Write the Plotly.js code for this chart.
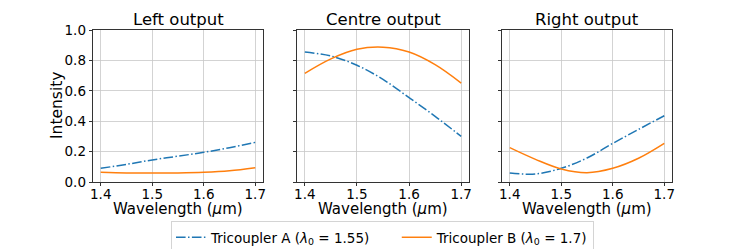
<!DOCTYPE html>
<html>
<head>
<meta charset="utf-8">
<script src="https://cdn.plot.ly/plotly-3.0.1.min.js"></script>
<style>html,body{margin:0;padding:0;background:#fff;}#chart{width:747px;height:249px;}</style>
</head>
<body>
<div id="chart"></div>
<script>
const wavelength = [1.40, 1.45, 1.50, 1.55, 1.60, 1.65, 1.70];

const leftA   = [0.090, 0.116, 0.145, 0.170, 0.195, 0.226, 0.261];
const leftB   = [0.064, 0.060, 0.059, 0.060, 0.064, 0.074, 0.094];
const centreA = [0.855, 0.829, 0.768, 0.675, 0.555, 0.432, 0.300];
const centreB = [0.715, 0.810, 0.873, 0.887, 0.855, 0.772, 0.651];
const rightA  = [0.059, 0.053, 0.090, 0.158, 0.254, 0.346, 0.436];
const rightB  = [0.226, 0.149, 0.086, 0.061, 0.090, 0.156, 0.254];

const panelTitles = ['Left output', 'Centre output', 'Right output'];
const seriesNames = ['Tricoupler A (<i>λ</i><sub>0</sub> = 1.55)', 'Tricoupler B (<i>λ</i><sub>0</sub> = 1.7)'];
const xTicks = [1.4, 1.5, 1.6, 1.7];
const yTicks = [0.0, 0.2, 0.4, 0.6, 0.8, 1.0];
const xLabel = 'Wavelength (<i>μ</i>m)';
const yLabel = 'Intensity';

const FONT = 'DejaVu Sans, Liberation Sans, sans-serif';
const blue = '#1f77b4', orange = '#ff7f0e';
const W = 747, H = 249;
const NBSP = '\u00a0';

const panelsA = [leftA, centreA, rightA];
const panelsB = [leftB, centreB, rightB];
const px = [[93, 263], [297, 469], [502, 672]];
const yTop = 30, yBot = 182;

const traces = [];
for (let i = 0; i < 3; i++) {
  const xa = i === 0 ? 'x' : 'x' + (i + 1);
  const ya = i === 0 ? 'y' : 'y' + (i + 1);
  traces.push({x: wavelength, y: panelsA[i], xaxis: xa, yaxis: ya, mode: 'lines',
    line: {color: blue, width: 1.5, dash: '9.6px,2.4px,1.5px,2.4px', shape: 'spline'},
    name: seriesNames[0] + NBSP.repeat(5), showlegend: i === 0, legendgroup: 'A'});
  traces.push({x: wavelength, y: panelsB[i], xaxis: xa, yaxis: ya, mode: 'lines',
    line: {color: orange, width: 1.5, shape: 'spline'},
    name: seriesNames[1], showlegend: i === 0, legendgroup: 'B'});
}

const layout = {
  width: W, height: H,
  margin: {l: 0, r: 0, t: 0, b: 0, autoexpand: false},
  paper_bgcolor: '#fff', plot_bgcolor: '#fff',
  font: {family: FONT, color: '#000', size: 13.5},
  showlegend: true,
  legend: {orientation: 'h', x: 382.5 / W, xanchor: 'center', y: 1 - 221 / H, yanchor: 'top',
    bordercolor: '#d4d4d4', borderwidth: 1, font: {family: FONT, size: 13.5},
    itemwidth: 30, tracegroupgap: 0},
  annotations: []
};

for (let i = 0; i < 3; i++) {
  const sfx = i === 0 ? '' : String(i + 1);
  layout['xaxis' + sfx] = {
    domain: [px[i][0] / W, px[i][1] / W], anchor: 'y' + sfx, automargin: false,
    range: [1.385, 1.715], tickvals: xTicks, tickformat: '.1f',
    ticks: 'outside', ticklen: 3.5, tickwidth: 0.8, tickcolor: '#000',
    ticklabelstandoff: -4,
    showline: true, linecolor: '#000', linewidth: 0.8, mirror: true,
    showgrid: true, gridcolor: '#c8c8c8', gridwidth: 0.8, zeroline: false,
    tickfont: {family: FONT, size: 13.5, color: '#000'}
  };
  layout['yaxis' + sfx] = {
    domain: [1 - yBot / H, 1 - yTop / H], anchor: 'x' + sfx, automargin: false,
    range: [0, 1], tickvals: yTicks, tickformat: '.1f',
    showticklabels: i === 0,
    ticks: 'outside', ticklen: 3.5, tickwidth: 0.8, tickcolor: '#000',
    showline: true, linecolor: '#000', linewidth: 0.8, mirror: true,
    showgrid: true, gridcolor: '#c8c8c8', gridwidth: 0.8, zeroline: false,
    tickfont: {family: FONT, size: 13.5, color: '#000'}
  };
  const cx = (px[i][0] + px[i][1]) / 2 / W;
  layout.annotations.push({text: panelTitles[i], xref: 'paper', yref: 'paper',
    x: cx, y: 1 - yTop / H, xanchor: 'center', yanchor: 'bottom', yshift: -1,
    showarrow: false, font: {family: FONT, size: 16.5, color: '#000'}});
  layout.annotations.push({text: xLabel, xref: 'paper', yref: 'paper',
    x: cx, y: 1 - 209 / H, xanchor: 'center', yanchor: 'middle', borderpad: 0,
    showarrow: false, font: {family: FONT, size: 15, color: '#000'}});
}
layout.annotations.push({text: yLabel, xref: 'paper', yref: 'paper',
  x: 57 / W, y: 1 - 106 / H, xanchor: 'center', yanchor: 'middle', textangle: -90,
  showarrow: false, font: {family: FONT, size: 15.5, color: '#000'}});

Plotly.newPlot('chart', traces, layout, {staticPlot: true, displayModeBar: false});
</script>
</body>
</html>
